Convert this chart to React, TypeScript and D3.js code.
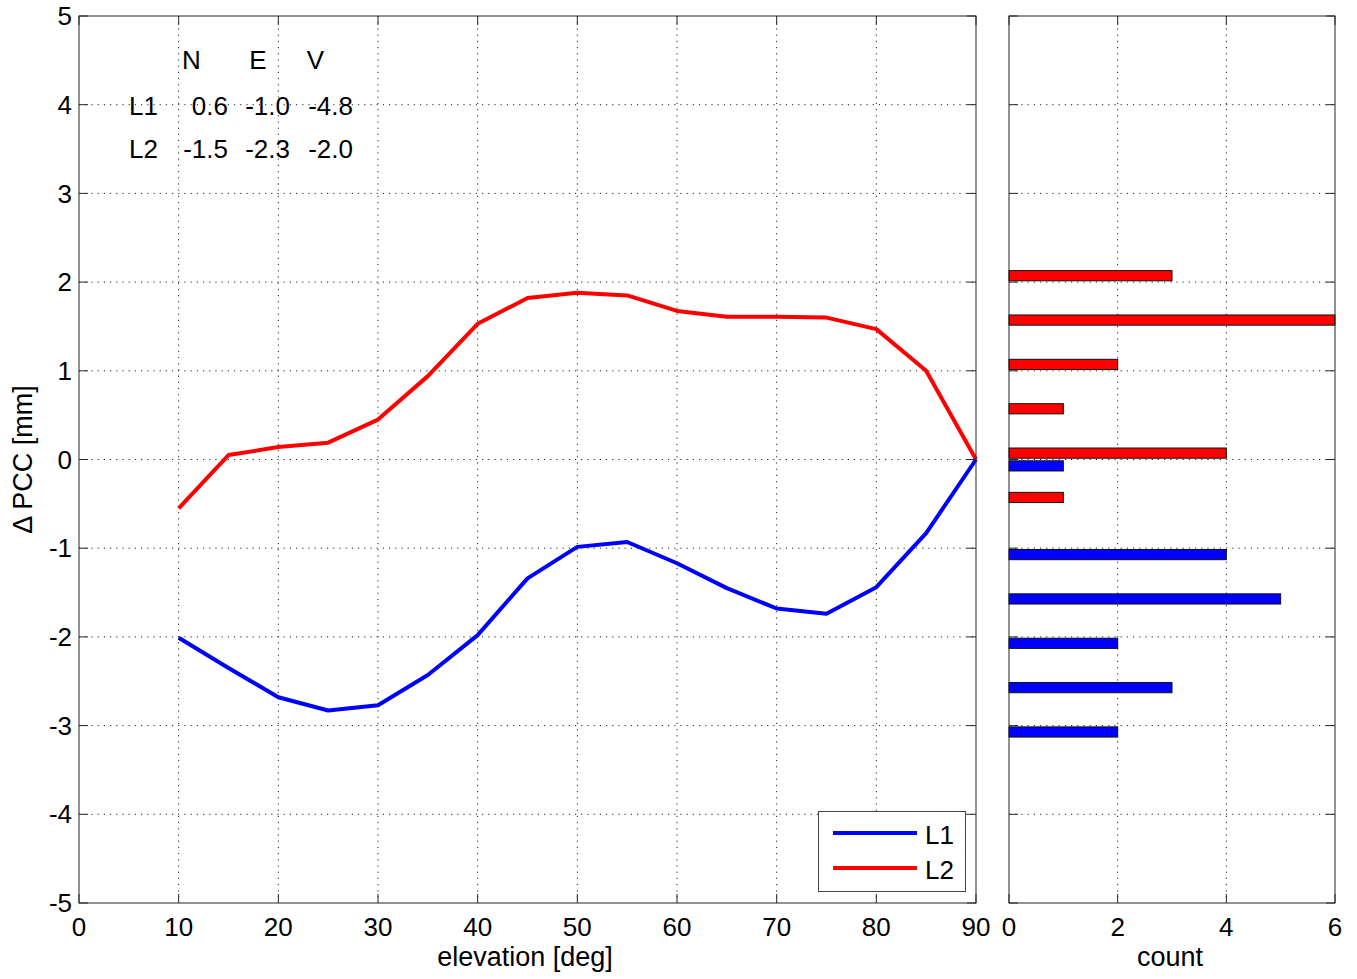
import React from "react";
import * as d3 from "d3";

// ---- data ----
const elevations = [10, 15, 20, 25, 30, 35, 40, 45, 50, 55, 60, 65, 70, 75, 80, 85, 90];
const seriesL1 = [-2.01, -2.35, -2.68, -2.83, -2.77, -2.43, -1.98, -1.34, -0.985, -0.93, -1.17, -1.45, -1.68, -1.74, -1.44, -0.83, 0];
const seriesL2 = [-0.55, 0.05, 0.14, 0.19, 0.45, 0.94, 1.53, 1.82, 1.88, 1.85, 1.675, 1.61, 1.61, 1.6, 1.47, 1.0, 0];
const seriesNames = ["L1", "L2"];
const seriesColors = ["#0000ff", "#ff0000"];

const binCenters = [2, 1.5, 1, 0.5, 0, -0.5, -1, -1.5, -2, -2.5, -3];
const countsL1 = [0, 0, 0, 0, 1, 0, 4, 5, 2, 3, 2];
const countsL2 = [3, 6, 2, 1, 4, 1, 0, 0, 0, 0, 0];

const xTicksMain = [0, 10, 20, 30, 40, 50, 60, 70, 80, 90];
const yTicks = [-5, -4, -3, -2, -1, 0, 1, 2, 3, 4, 5];
const xTicksHist = [0, 2, 4, 6];

const tableCols = ["N", "E", "V"];
const tableRows = ["L1", "L2"];
const tableValues = [
  [0.6, -1.0, -4.8],
  [-1.5, -2.3, -2.0],
];

// ---- layout ----
const W = 1357;
const H = 979;
const top = 16;
const bottom = 903;
const mainL = 79;
const mainR = 976;
const histL = 1009;
const histR = 1335;
const tickLen = 9;
const FONT = "'Liberation Sans', Arial, Helvetica, sans-serif";
const FS = 26;
const FSL = 27;
const axisColor = "#262626";

export default function App() {
  const x = d3.scaleLinear().domain([0, 90]).range([mainL, mainR]);
  const y = d3.scaleLinear().domain([-5, 5]).range([bottom, top]);
  const xh = d3.scaleLinear().domain([0, 6]).range([histL, histR]);

  const line = d3
    .line<number>()
    .x((_, i) => x(elevations[i]))
    .y((d) => y(d));

  const barThick = 0.115;
  const barOff = 0.072;

  const grid = (key: string, x1: number, y1: number, x2: number, y2: number) => (
    <line key={key} x1={x1} y1={y1} x2={x2} y2={y2} stroke="#222" strokeWidth={1} strokeDasharray="1.2,5" />
  );

  const colHeaderX = [191.5, 258, 315.5];
  const colValueRight = [228, 290, 353];
  const rowLabelX = 129;
  const headerBaseline = 69;
  const rowBaselines = [115, 158];

  return (
    <svg
      width={W}
      height={H}
      style={{ position: "absolute", left: 0, top: 0, background: "#fff" }}
      fontFamily={FONT}
    >
      <rect x={0} y={0} width={W} height={H} fill="#fff" />
      {/* Main axes */}
      <rect x={mainL} y={top} width={mainR - mainL} height={bottom - top} fill="#fff" />
      {xTicksMain.slice(1, -1).map((t) => grid("gx" + t, x(t), top, x(t), bottom))}
      {yTicks.slice(1, -1).map((t) => grid("gy" + t, mainL, y(t), mainR, y(t)))}

      {/* Histogram axes */}
      <rect x={histL} y={top} width={histR - histL} height={bottom - top} fill="#fff" />
      {xTicksHist.slice(1, -1).map((t) => grid("hgx" + t, xh(t), top, xh(t), bottom))}
      {yTicks.slice(1, -1).map((t) => grid("hgy" + t, histL, y(t), histR, y(t)))}

      {/* lines */}
      <path d={line(seriesL2) || ""} fill="none" stroke={seriesColors[1]} strokeWidth={4} strokeLinejoin="round" />
      <path d={line(seriesL1) || ""} fill="none" stroke={seriesColors[0]} strokeWidth={4} strokeLinejoin="round" />

      {/* histogram bars */}
      {binCenters.map((b, i) =>
        countsL2[i] > 0 ? (
          <rect
            key={"r" + i}
            x={xh(0)}
            y={y(b + barOff + barThick / 2)}
            width={xh(countsL2[i]) - xh(0)}
            height={y(b + barOff - barThick / 2) - y(b + barOff + barThick / 2)}
            fill={seriesColors[1]}
            stroke="#111"
            strokeWidth={1}
          />
        ) : null
      )}
      {binCenters.map((b, i) =>
        countsL1[i] > 0 ? (
          <rect
            key={"b" + i}
            x={xh(0)}
            y={y(b - barOff + barThick / 2)}
            width={xh(countsL1[i]) - xh(0)}
            height={y(b - barOff - barThick / 2) - y(b - barOff + barThick / 2)}
            fill={seriesColors[0]}
            stroke="#111"
            strokeWidth={1}
          />
        ) : null
      )}

      {/* main ticks */}
      {xTicksMain.map((t) => (
        <g key={"xt" + t}>
          <line x1={x(t)} y1={bottom} x2={x(t)} y2={bottom - tickLen} stroke={axisColor} />
          <line x1={x(t)} y1={top} x2={x(t)} y2={top + tickLen} stroke={axisColor} />
          <text x={x(t)} y={936} textAnchor="middle" fontSize={FS} fill="#000">
            {t}
          </text>
        </g>
      ))}
      {yTicks.map((t) => (
        <g key={"yt" + t}>
          <line x1={mainL} y1={y(t)} x2={mainL + tickLen} y2={y(t)} stroke={axisColor} />
          <line x1={mainR} y1={y(t)} x2={mainR - tickLen} y2={y(t)} stroke={axisColor} />
          <line x1={histL} y1={y(t)} x2={histL + tickLen} y2={y(t)} stroke={axisColor} />
          <line x1={histR} y1={y(t)} x2={histR - tickLen} y2={y(t)} stroke={axisColor} />
          <text x={72} y={y(t)} dy="0.35em" textAnchor="end" fontSize={FS} fill="#000">
            {t}
          </text>
        </g>
      ))}
      {xTicksHist.map((t) => (
        <g key={"ht" + t}>
          <line x1={xh(t)} y1={bottom} x2={xh(t)} y2={bottom - tickLen} stroke={axisColor} />
          <line x1={xh(t)} y1={top} x2={xh(t)} y2={top + tickLen} stroke={axisColor} />
          <text x={xh(t)} y={936} textAnchor="middle" fontSize={FS} fill="#000">
            {t}
          </text>
        </g>
      ))}

      {/* axes boxes */}
      <rect x={mainL} y={top} width={mainR - mainL} height={bottom - top} fill="none" stroke={axisColor} strokeWidth={1} />
      <rect x={histL} y={top} width={histR - histL} height={bottom - top} fill="none" stroke={axisColor} strokeWidth={1} />

      {/* axis labels */}
      <text x={525} y={966} textAnchor="middle" fontSize={FSL} fill="#000">
        elevation [deg]
      </text>
      <text x={1170} y={966} textAnchor="middle" fontSize={FSL} fill="#000">
        count
      </text>
      <text
        transform={`translate(32, ${y(0)}) rotate(-90)`}
        textAnchor="middle"
        fontSize={FSL}
        fill="#000"
      >
        Δ PCC [mm]
      </text>

      {/* table text */}
      {tableCols.map((c, j) => (
        <text key={"tc" + j} x={colHeaderX[j]} y={headerBaseline} textAnchor="middle" fontSize={FS} fill="#000">
          {c}
        </text>
      ))}
      {tableRows.map((r, i) => (
        <g key={"tr" + i}>
          <text x={rowLabelX} y={rowBaselines[i]} fontSize={FS} fill="#000">
            {r}
          </text>
          {tableValues[i].map((v, j) => (
            <text key={j} x={colValueRight[j]} y={rowBaselines[i]} textAnchor="end" fontSize={FS} fill="#000">
              {v.toFixed(1)}
            </text>
          ))}
        </g>
      ))}

      {/* legend */}
      <rect x={818.5} y={811.5} width={147} height={80} fill="#fff" stroke="#444" strokeWidth={1} />
      {seriesNames.map((n, i) => (
        <g key={"lg" + n}>
          <line x1={833} x2={917} y1={833 + i * 35} y2={833 + i * 35} stroke={seriesColors[i]} strokeWidth={4} />
          <text x={925} y={844 + i * 35} fontSize={FS} fill="#000">
            {n}
          </text>
        </g>
      ))}
    </svg>
  );
}
